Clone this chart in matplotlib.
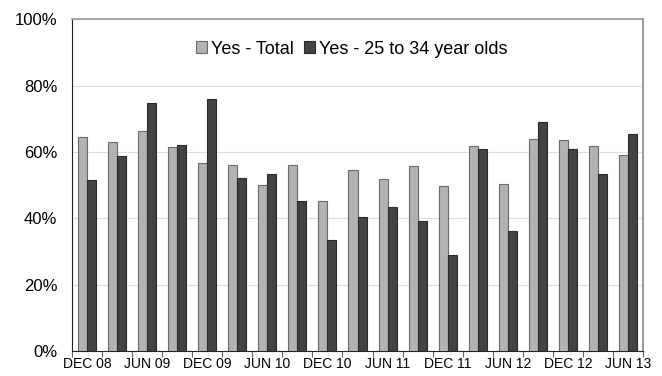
import matplotlib.pyplot as plt
import numpy as np

plt.rcParams['font.family'] = ['Liberation Sans', 'DejaVu Sans']

quarters = ['DEC 08', 'MAR 09', 'JUN 09', 'SEP 09', 'DEC 09', 'MAR 10', 'JUN 10',
            'SEP 10', 'DEC 10', 'MAR 11', 'JUN 11', 'SEP 11', 'DEC 11', 'MAR 12',
            'JUN 12', 'SEP 12', 'DEC 12', 'MAR 13', 'JUN 13']
yes_total = [64.6, 63.0, 66.2, 61.4, 56.6, 56.1, 50.0, 56.1, 45.1, 54.6,
             51.8, 55.7, 49.6, 61.7, 50.4, 63.9, 63.6, 61.8, 59.1]
yes_25_34 = [51.6, 58.8, 74.9, 62.2, 76.1, 52.3, 53.5, 45.2, 33.6, 40.5,
             43.5, 39.2, 28.9, 61.0, 36.3, 68.9, 61.0, 53.5, 65.3]

fig = plt.figure(figsize=(6.62, 3.76), dpi=100)
ax = fig.add_axes([0.1088, 0.0665, 0.8625, 0.8822])

x = np.arange(len(quarters))
w = 0.3
ax.bar(x - w / 2, yes_total, w, color='#b2b2b2', edgecolor='#6a6a6a',
       linewidth=0.8, label='Yes - Total', zorder=3)
ax.bar(x + w / 2, yes_25_34, w, color='#434343', edgecolor='#2a2a2a',
       linewidth=0.8, label='Yes - 25 to 34 year olds', zorder=3)

ax.set_xlim(-0.5, len(quarters) - 0.5)
ax.set_ylim(0, 100)
ax.set_yticks(range(0, 101, 20))
ax.set_yticklabels([f'{v}%' for v in range(0, 101, 20)], fontsize=12)
ax.tick_params(axis='y', length=0, pad=10.5)

# labels every other quarter, tick marks on the category boundaries
ax.set_xticks(x[::2])
ax.set_xticklabels(quarters[::2], fontsize=10)
ax.tick_params(axis='x', which='major', length=0, pad=4)
ax.set_xticks(np.arange(-0.5, len(quarters), 1.0), minor=True)
ax.tick_params(axis='x', which='minor', length=4, width=0.8, color='#666666')

ax.grid(axis='y', color='#dddddd', linewidth=0.8, zorder=0)
ax.spines['left'].set_color('#222222')
ax.spines['bottom'].set_color('#222222')
ax.spines['top'].set_color('#999999')
ax.spines['right'].set_color('#888888')
ax.spines['top'].set_linewidth(1.2)
ax.spines['right'].set_linewidth(1.2)

ax.legend(loc='upper center', bbox_to_anchor=(0.49, 0.985), ncol=2, frameon=False,
          fontsize=13, handlelength=0.6, handleheight=0.6, handletextpad=0.2,
          columnspacing=0.6)

fig.savefig('out.png', dpi=100)
